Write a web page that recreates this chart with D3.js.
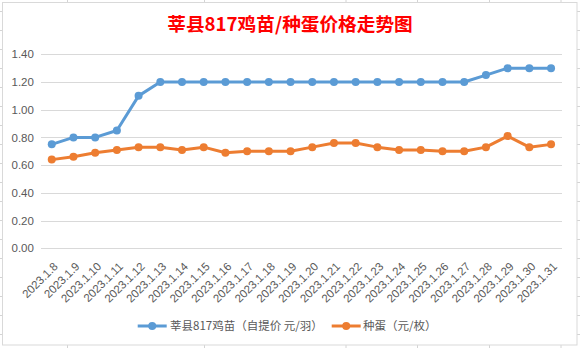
<!DOCTYPE html>
<html>
<head>
<meta charset="utf-8">
<script src="https://cdn.jsdelivr.net/npm/d3@7"></script>
<style>
  html, body { margin: 0; padding: 0; background: #fff; }
  svg { display: block; }
</style>
</head>
<body>
<svg id="chart" width="580" height="348"></svg>
<script>
const titleText = "莘县817鸡苗/种蛋价格走势图";
const dates = ["2023.1.8","2023.1.9","2023.1.10","2023.1.11","2023.1.12","2023.1.13","2023.1.14","2023.1.15","2023.1.16","2023.1.17","2023.1.18","2023.1.19","2023.1.20","2023.1.21","2023.1.22","2023.1.23","2023.1.24","2023.1.25","2023.1.26","2023.1.27","2023.1.28","2023.1.29","2023.1.30","2023.1.31"];
const chickPrices = [0.75,0.80,0.80,0.85,1.10,1.20,1.20,1.20,1.20,1.20,1.20,1.20,1.20,1.20,1.20,1.20,1.20,1.20,1.20,1.20,1.25,1.30,1.30,1.30];
const eggPrices = [0.64,0.66,0.69,0.71,0.73,0.73,0.71,0.73,0.69,0.70,0.70,0.70,0.73,0.76,0.76,0.73,0.71,0.71,0.70,0.70,0.73,0.81,0.73,0.75];
const yTicks = [0, 0.2, 0.4, 0.6, 0.8, 1.0, 1.2, 1.4];
const seriesNames = ["莘县817鸡苗（自提价 元/羽）", "种蛋（元/枚）"];
const seriesColors = ["#5B9BD5", "#ED7D31"];
const sheetColumns = [67.5, 204.5, 346, 417.5, 489.5, 561];

const svg = d3.select("#chart");
const W = 580, H = 348;

// spreadsheet background grid
const bg = svg.append("g");
sheetColumns.forEach(x => bg.append("line").attr("x1", x).attr("x2", x).attr("y1", 0).attr("y2", H)
  .attr("stroke", "#d4d4d4").attr("stroke-width", 1));
for (let y = 11.5; y < H; y += 19) {
  bg.append("line").attr("x1", 0).attr("x2", W).attr("y1", y).attr("y2", y)
    .attr("stroke", "#d4d4d4").attr("stroke-width", 1);
}
// chart area
svg.append("rect").attr("x", 2.5).attr("y", 2.5).attr("width", 574.5).attr("height", 342.5)
  .attr("fill", "#fff").attr("stroke", "#d9d9d9").attr("stroke-width", 1);

// title
svg.append("text").attr("x", 290).attr("y", 31).attr("text-anchor", "middle")
  .attr("fill", "#FF0000").attr("font-size", "18.67px").attr("font-weight", "bold")
  .attr("font-family", "'Noto Sans CJK SC', 'Liberation Sans', sans-serif")
  .text(titleText);

const x = d3.scalePoint().domain(dates).range([40.9, 561.9]).padding(0.5);
const y = d3.scaleLinear().domain([0, 1.4]).range([248.3, 54.3]);

// gridlines + y labels
const yAxis = d3.axisLeft(y).tickValues(yTicks).tickFormat(d3.format(".2f"))
  .tickSize(-(561.9 - 40.9)).tickPadding(8);
const gy = svg.append("g").attr("transform", "translate(40.9,0)").call(yAxis);
gy.select(".domain").remove();
gy.selectAll(".tick line").attr("stroke", "#d9d9d9").attr("shape-rendering", "crispEdges");
gy.selectAll(".tick text").attr("fill", "#595959").attr("font-size", "11.5px")
  .attr("font-family", "'Liberation Sans', Arial, sans-serif").attr("x", -7);

// x labels
const xAxis = d3.axisBottom(x).tickSize(0).tickPadding(0);
const gx = svg.append("g").attr("transform", "translate(0,248.3)").call(xAxis);
gx.select(".domain").remove();
gx.selectAll(".tick text")
  .attr("fill", "#595959").attr("font-size", "11.5px")
  .attr("font-family", "'Liberation Sans', Arial, sans-serif")
  .attr("text-anchor", "end").attr("x", 0).attr("y", 0).attr("dy", "0.35em")
  .attr("transform", "translate(3.5,16) rotate(-45)");

// series
const allSeries = [chickPrices, eggPrices];
const line = d3.line().x((d, i) => x(dates[i])).y(d => y(d));
allSeries.forEach((vals, si) => {
  const g = svg.append("g");
  g.append("path").datum(vals).attr("d", line).attr("fill", "none")
    .attr("stroke", seriesColors[si]).attr("stroke-width", 3)
    .attr("stroke-linejoin", "round").attr("stroke-linecap", "round");
  g.selectAll("circle").data(vals).join("circle")
    .attr("cx", (d, i) => x(dates[i])).attr("cy", d => y(d)).attr("r", 4)
    .attr("fill", seriesColors[si]);
});

// legend
const legendY = 326;
const legendItems = [{x0: 137.7, tx: 170}, {x0: 331.7, tx: 363}];
legendItems.forEach((it, i) => {
  const g = svg.append("g");
  g.append("line").attr("x1", it.x0).attr("x2", it.x0 + 29).attr("y1", legendY).attr("y2", legendY)
    .attr("stroke", seriesColors[i]).attr("stroke-width", 3);
  g.append("circle").attr("cx", it.x0 + 14.5).attr("cy", legendY).attr("r", 4).attr("fill", seriesColors[i]);
  g.append("text").attr("x", it.tx).attr("y", legendY).attr("dy", "0.35em")
    .attr("fill", "#595959").attr("font-size", "11.5px")
    .attr("font-family", "'Noto Sans CJK SC', sans-serif")
    .text(seriesNames[i]);
});
</script>
</body>
</html>
